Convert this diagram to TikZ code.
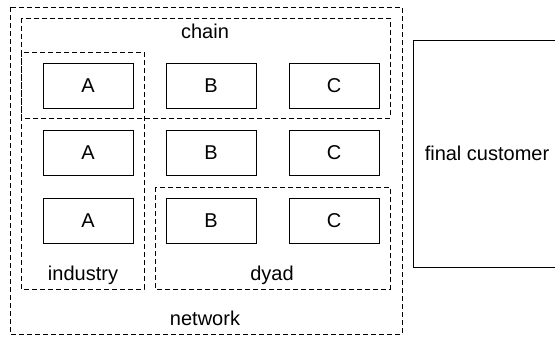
\documentclass[tikz,border=0pt]{standalone}
\usepackage{fontspec}
\setmainfont{Liberation Sans}
\begin{document}
\begin{tikzpicture}[x=1pt,y=-1pt,
  actor/.style={draw, line width=0.8pt, minimum width=90pt, minimum height=45pt, inner sep=0pt, font=\fontsize{20}{23}\selectfont},
  group/.style={draw, line width=0.8pt, dash pattern=on 5pt off 3pt},
  grouplabel/.style={inner sep=0pt, text height=14pt, text depth=4pt, font=\fontsize{20}{23}\selectfont}]
\useasboundingbox (0,0) rectangle (555,338);
\clip (0,0) rectangle (555,338);
% firms in the three tiers
\foreach \name/\x in {A/88,B/211,C/334}
  \foreach \row/\y in {1/85.5,2/153,3/220.5}
    \node[actor] (\name\row) at (\x,\y) {\name};
% dashed groupings
\draw[group] (10,7) rectangle (402,334);
\draw[group] (21,18) rectangle (390,118);
\draw[group] (21,52) rectangle (144,289);
\draw[group] (155,187) rectangle (390,289);
\node[grouplabel] (chain) at (205,33) {chain};
\node[grouplabel] (industry) at (83,275) {industry};
\node[grouplabel] (dyad) at (272,275) {dyad};
\node[grouplabel] (network) at (205,320.5) {network};
% customer
\node[draw, line width=1pt, minimum width=148pt, minimum height=227pt, font=\fontsize{20}{23}\selectfont] (customer) at (487,153.5) {final customer};
\end{tikzpicture}
\end{document}
